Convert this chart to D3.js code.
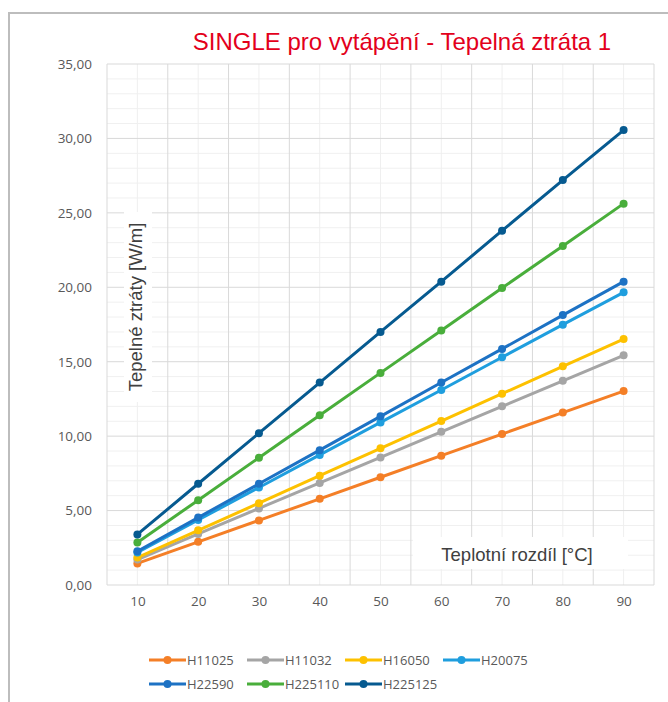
<!DOCTYPE html>
<html>
<head>
<meta charset="utf-8">
<script src="https://cdn.jsdelivr.net/npm/d3@7"></script>
<style>
  body { margin: 0; background: #fff; }
  text { font-family: "Open Sans", "DejaVu Sans", sans-serif; }
</style>
</head>
<body>
<div id="chart"></div>
<script>
// data
const xValues = [10, 20, 30, 40, 50, 60, 70, 80, 90];
const seriesNames = ['H11025', 'H11032', 'H16050', 'H20075', 'H22590', 'H225110', 'H225125'];
const seriesColors = ['#f47f27', '#a5a5a5', '#fdc100', '#1f9ede', '#1d72c4', '#49ae3b', '#065a90'];
const h11025 = [1.45, 2.90, 4.34, 5.79, 7.24, 8.69, 10.14, 11.58, 13.03];
const h11032 = [1.71, 3.43, 5.14, 6.86, 8.57, 10.29, 12.00, 13.72, 15.43];
const h16050 = [1.84, 3.67, 5.50, 7.34, 9.18, 11.01, 12.85, 14.69, 16.52];
const h20075 = [2.19, 4.37, 6.55, 8.74, 10.92, 13.10, 15.30, 17.49, 19.66];
const h22590 = [2.27, 4.53, 6.80, 9.06, 11.33, 13.60, 15.86, 18.13, 20.38];
const h225110 = [2.85, 5.70, 8.55, 11.40, 14.25, 17.10, 19.95, 22.78, 25.62];
const h225125 = [3.40, 6.80, 10.20, 13.60, 17.00, 20.38, 23.80, 27.20, 30.56];
const allSeries = [h11025, h11032, h16050, h20075, h22590, h225110, h225125];
const yTicks = [0, 5, 10, 15, 20, 25, 30, 35];

const title = 'SINGLE pro vytápění - Tepelná ztráta 1';
const xTitle = 'Teplotní rozdíl [°C]';
const yTitle = 'Tepelné ztráty [W/m]';

const svg = d3.select('#chart')
    .append('svg')
    .attr('width', 668)
    .attr('height', 702);

// chart frame (runs off the right and bottom)
svg.append('rect')
    .attr('x', 9).attr('y', 13)
    .attr('width', 700).attr('height', 720)
    .attr('fill', 'none')
    .attr('stroke', '#bdbdbd')
    .attr('stroke-width', 2);

const xScale = d3.scaleLinear().domain([5, 95]).range([107, 654]);
const yScale = d3.scaleLinear().domain([0, 35]).range([585, 64]);

// gridlines
const grid = svg.append('g');
grid.selectAll('line.yminor')
    .data(d3.range(0, 36).filter(v => v % 5 !== 0))
    .enter().append('line')
    .attr('x1', xScale(5)).attr('x2', xScale(95))
    .attr('y1', d => yScale(d)).attr('y2', d => yScale(d))
    .attr('stroke', '#f0f0f0');
grid.selectAll('line.xminor')
    .data(xValues)
    .enter().append('line')
    .attr('x1', d => xScale(d)).attr('x2', d => xScale(d))
    .attr('y1', yScale(0)).attr('y2', yScale(35))
    .attr('stroke', '#efefef');
grid.selectAll('line.ymajor')
    .data(yTicks)
    .enter().append('line')
    .attr('x1', xScale(5)).attr('x2', xScale(95))
    .attr('y1', d => yScale(d)).attr('y2', d => yScale(d))
    .attr('stroke', '#d9d9d9');
grid.selectAll('line.xmajor')
    .data(d3.range(5, 96, 10))
    .enter().append('line')
    .attr('x1', d => xScale(d)).attr('x2', d => xScale(d))
    .attr('y1', yScale(0)).attr('y2', yScale(35))
    .attr('stroke', '#d9d9d9');

// axes (labels only)
const yAxis = svg.append('g')
    .attr('transform', `translate(${xScale(5) - 12}, 0)`)
    .call(d3.axisLeft(yScale).tickValues(yTicks).tickSize(0)
        .tickFormat(d => d3.format('.2f')(d).replace('.', ',')));
yAxis.select('.domain').remove();
yAxis.selectAll('text').attr('fill', '#595959').style('font-size', '13.5px');

const xAxis = svg.append('g')
    .attr('transform', `translate(0, ${yScale(0) + 8})`)
    .call(d3.axisBottom(xScale).tickValues(xValues).tickSize(0));
xAxis.select('.domain').remove();
xAxis.selectAll('text').attr('fill', '#595959').style('font-size', '13.5px');

// series
const line = d3.line().x((d, i) => xScale(xValues[i])).y(d => yScale(d));
const plot = svg.append('g');
allSeries.forEach((vals, s) => {
    plot.append('path')
        .attr('d', line(vals))
        .attr('fill', 'none')
        .attr('stroke', seriesColors[s])
        .attr('stroke-width', 3)
        .attr('stroke-linejoin', 'round');
    plot.selectAll('circle.s' + s)
        .data(vals)
        .enter().append('circle')
        .attr('cx', (d, i) => xScale(xValues[i]))
        .attr('cy', d => yScale(d))
        .attr('r', 4)
        .attr('fill', seriesColors[s]);
});

// axis titles with white boxes
svg.append('rect')
    .attr('x', 413).attr('y', 537).attr('width', 215).attr('height', 32)
    .attr('fill', '#fff');
svg.append('text')
    .attr('x', 517).attr('y', 561)
    .attr('text-anchor', 'middle')
    .style('font-family', '"Liberation Sans", Arial, sans-serif')
    .style('font-size', '18.5px')
    .attr('fill', '#404040')
    .text(xTitle);

svg.append('rect')
    .attr('x', 124).attr('y', 212).attr('width', 28).attr('height', 190)
    .attr('fill', '#fff');
svg.append('text')
    .attr('transform', 'translate(142, 307) rotate(-90)')
    .attr('text-anchor', 'middle')
    .style('font-family', '"Liberation Sans", Arial, sans-serif')
    .style('font-size', '18.5px')
    .attr('fill', '#404040')
    .text(yTitle);

// title
svg.append('text')
    .attr('x', 402).attr('y', 50)
    .attr('text-anchor', 'middle')
    .style('font-family', '"Liberation Sans", Arial, sans-serif')
    .style('font-size', '24px')
    .attr('fill', '#e3001b')
    .text(title);

// legend
const legend = svg.append('g');
seriesNames.forEach((name, s) => {
    const col = s % 4, row = Math.floor(s / 4);
    const lx = 149 + col * 98, ly = 660 + row * 24;
    const item = legend.append('g').attr('transform', `translate(${lx}, ${ly})`);
    item.append('line')
        .attr('x1', 0).attr('x2', 37).attr('y1', 0).attr('y2', 0)
        .attr('stroke', seriesColors[s]).attr('stroke-width', 3);
    item.append('circle')
        .attr('cx', 18.5).attr('cy', 0).attr('r', 4)
        .attr('fill', seriesColors[s]);
    item.append('text')
        .attr('x', 38).attr('y', 5)
        .attr('fill', '#595959')
        .style('font-size', '13px')
        .text(name);
});
</script>
</body>
</html>
